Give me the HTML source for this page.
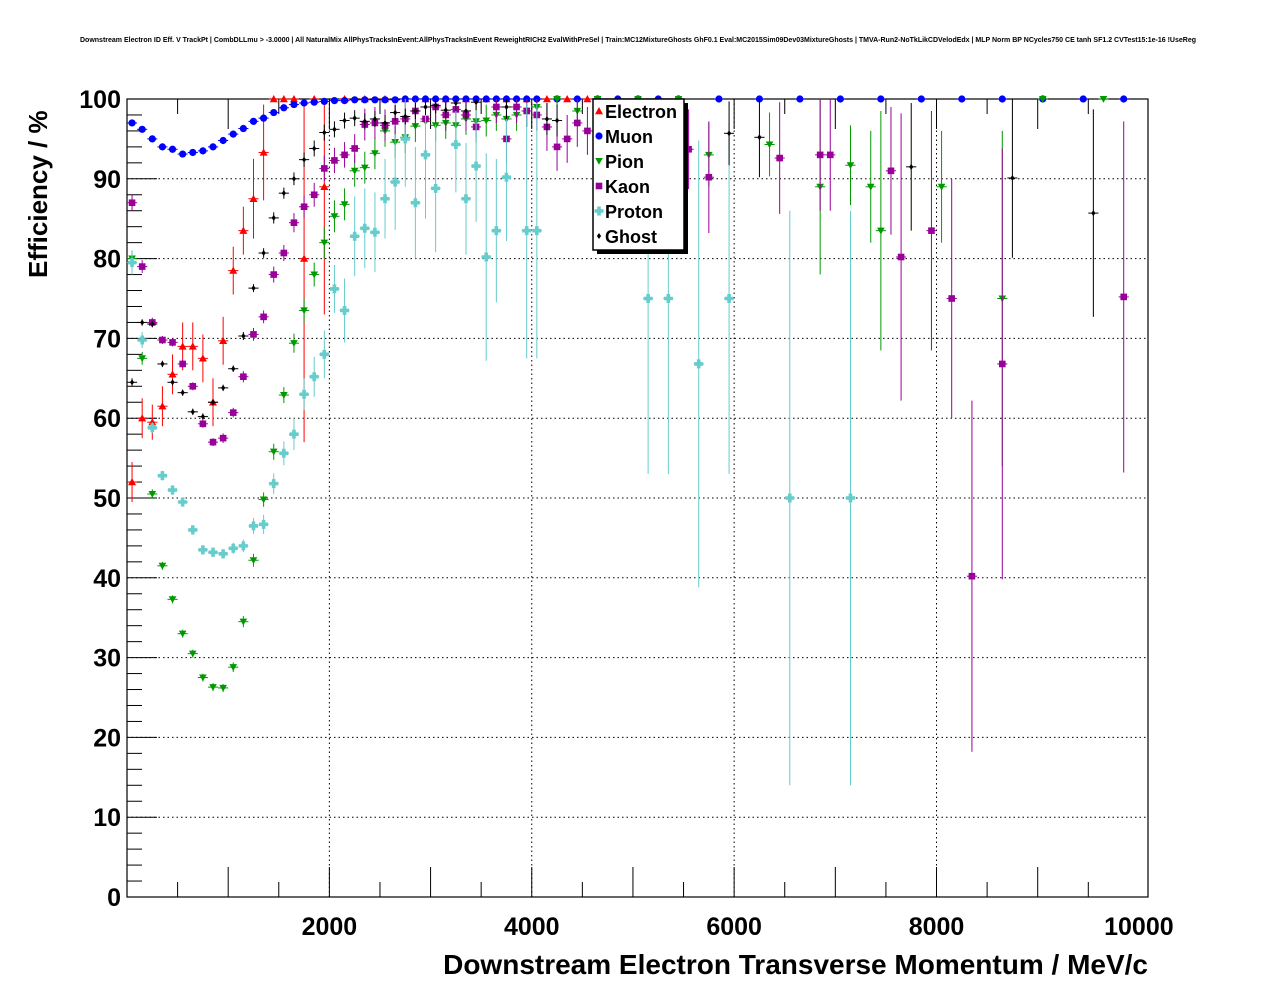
<!DOCTYPE html>
<html><head><meta charset="utf-8"><style>
html,body{margin:0;padding:0;background:#fff;}
svg{display:block;font-family:"Liberation Sans",sans-serif;}
</style></head><body>
<svg id="chart" width="1276" height="996" viewBox="0 0 1276 996" xmlns="http://www.w3.org/2000/svg">
<rect x="0" y="0" width="1276" height="996" fill="#fff"/>
<text x="638" y="42" font-size="7" font-weight="bold" text-anchor="middle">Downstream Electron ID Eff. V TrackPt | CombDLLmu &gt; -3.0000 | All NaturalMix AllPhysTracksInEvent:AllPhysTracksInEvent ReweightRICH2 EvalWithPreSel | Train:MC12MixtureGhosts GhF0.1 Eval:MC2015Sim09Dev03MixtureGhosts | TMVA-Run2-NoTkLikCDVelodEdx | MLP Norm BP NCycles750 CE tanh SF1.2 CVTest15:1e-16 !UseReg</text>
<g id="grid"></g>
<g id="axes"></g>
<g id="marks"></g>
<text transform="translate(47,278) rotate(-90)" font-size="26" font-weight="bold">Efficiency / %</text>
<text x="1148" y="974" font-size="28" font-weight="bold" text-anchor="end">Downstream Electron Transverse Momentum / MeV/c</text>
<g id="legend">
<rect x="597" y="103" width="91" height="151" fill="#000"/>
<rect x="593" y="99" width="91" height="151" fill="#fff" stroke="#000" stroke-width="1.5"/>
</g>
</svg>
<script>
const xE=[50,150,250,350,450,550,650,750,850,950,1050,1150,1250,1350,1450,1550,1650,1750,1850,1950,2150,2350,2550,2750,2950,3150,3350,3550,3750,3950,4150,4350,4550];
const yE=[52,60,59.5,61.5,65.5,69,69,67.5,62,69.7,78.5,83.5,87.5,93.3,100,100,100,80,100,89,100,100,100,100,100,100,100,100,100,100,100,100,100];
const eE=[2.5,2.5,2.2,2.5,2.5,3,3,3,3,3,3,3,5,6,0,0,0,23,0,16,0,0,0,0,0,0,0,0,0,0,0,0,0];
const xMu=[50,150,250,350,450,550,650,750,850,950,1050,1150,1250,1350,1450,1550,1650,1750,1850,1950,2050,2150,2250,2350,2450,2550,2650,2750,2850,2950,3050,3150,3250,3350,3450,3550,3650,3750,3850,3950,4050,4250,4450,4650,4850,5050,5250,5450,5850,6250,6650,7050,7450,7850,8250,8650,9050,9450,9850];
const yMu=[97,96.2,95,94,93.7,93.1,93.3,93.5,94,94.8,95.6,96.3,97.2,97.6,98.3,98.9,99.3,99.5,99.6,99.7,99.8,99.8,99.9,99.9,99.9,99.9,99.9,100,100,100,100,100,100,100,100,100,100,100,100,100,100,100,100,100,100,100,100,100,100,100,100,100,100,100,100,100,100,100,100];
const xPi=[50,150,250,350,450,550,650,750,850,950,1050,1150,1250,1350,1450,1550,1650,1750,1850,1950,2050,2150,2250,2350,2450,2550,2650,2750,2850,2950,3050,3150,3250,3350,3450,3550,3650,3750,3850,3950,4050,4250,4450,4650,5050,5450,5750,6350,6850,7150,7350,7450,8050,8650,9050,9650];
const yPi=[80,67.5,50.5,41.5,37.3,33,30.5,27.5,26.3,26.2,28.8,34.5,42.2,49.8,55.8,62.9,69.4,73.5,78,82,85.3,86.8,91,91.4,93.2,96,94.6,95.2,96.6,97.2,96.7,97,96.7,97.5,97.2,97.3,98,97.5,98,98.5,99,100,98.5,100,100,100,93,94.3,89,91.7,89,83.5,89,75,100,100];
const ePi=[1,0.8,0.6,0.5,0.5,0.5,0.5,0.5,0.5,0.5,0.6,0.7,0.8,0.9,1,1,1.2,1.5,1.5,2,2,2,2,2,2,2,2,2,2,2,2,2,2,2,2,2,2,2,2,2,1,1,2,1,0,0,4,4,11,5,7,15,7,21,0,0];
const xK=[50,150,250,350,450,550,650,750,850,950,1050,1150,1250,1350,1450,1550,1650,1750,1850,1950,2050,2150,2250,2350,2450,2550,2650,2750,2850,2950,3050,3150,3250,3350,3450,3650,3750,3850,3950,4050,4150,4250,4350,4450,4550,4650,5550,5750,6450,6850,6950,7550,7650,7950,8150,8350,8650,9850];
const yK=[87,79,72,69.8,69.5,66.8,64,59.3,57,57.5,60.7,65.2,70.5,72.7,78,80.7,84.5,86.5,88,91.3,92.3,93,93.8,96.8,97,96.7,97.2,97.5,98.5,97.5,99,98,98.7,98,96.5,99,95,99,98.5,98,96.5,94,95,97,96,99,93.7,90.2,92.6,93,93,91,80.2,83.5,75,40.2,66.8,75.2];
const eK=[1,0.8,0.6,0.5,0.5,0.5,0.5,0.5,0.5,0.6,0.6,0.7,0.8,0.8,1,1,1.2,1.4,1.5,1.6,1.6,1.6,1.8,2,2,2,2,2,2,2,2,2,2,2,2,2,3,2,2,2,3,3,3,3,3,3,5,7,7,7,7,8,18,15,15,22,27,22];
const xP=[50,150,250,350,450,550,650,750,850,950,1050,1150,1250,1350,1450,1550,1650,1750,1850,1950,2050,2150,2250,2350,2450,2550,2650,2750,2850,2950,3050,3250,3350,3450,3550,3650,3750,3950,4050,5150,5350,5650,5950,6550,7150];
const yP=[79.5,69.8,58.8,52.8,51,49.5,46,43.5,43.2,43,43.7,44,46.5,46.7,51.8,55.6,58,63,65.2,68,76.2,73.5,82.8,83.8,83.3,87.5,89.6,95,87,93,88.8,94.3,87.5,91.6,80.2,83.5,90.2,83.5,83.5,75,75,66.8,75,50,50];
const eP=[1.5,1,0.7,0.6,0.6,0.6,0.6,0.6,0.6,0.6,0.7,0.8,1,1.2,1.3,1.5,2,2,2.5,3,3,4,5,5,5,5,6,6,7,8,8,6,7,7,13,9,8,16,16,22,22,28,22,36,36];
const xG=[50,150,250,350,450,550,650,750,850,950,1050,1150,1250,1350,1450,1550,1650,1750,1850,1950,2050,2150,2250,2350,2450,2550,2650,2750,2850,2950,3050,3150,3250,3350,3450,3750,4150,4250,5450,5950,6250,7750,8750,9550];
const yG=[64.5,72,71.8,66.8,64.5,63.2,60.8,60.2,62,63.8,66.2,70.3,76.3,80.7,85.1,88.2,90,92.4,93.8,95.8,96.2,97.3,97.6,97.2,97.5,97,98.3,97.8,98.5,99,99.2,98.6,99.5,98.5,99.6,99,97.5,97.3,97.5,95.7,95.2,91.5,90.1,85.7];
const eG=[0.5,0.4,0.4,0.4,0.4,0.4,0.4,0.4,0.4,0.4,0.4,0.5,0.5,0.6,0.7,0.7,0.8,0.9,1,1,1,1,1,1,1,1,1,1,1,1,1,1,1,1,1,1.5,2,2,3,4,5,8,10,13];
const yTicks=[0,10,20,30,40,50,60,70,80,90,100];
const xTicks=[2000,4000,6000,8000,10000];

const NS='http://www.w3.org/2000/svg';
const X0=127,X1=1148,Y0=897,Y1=99,XMAX=10090;
const sx=v=>X0+(v/XMAX)*(X1-X0);
const sy=v=>Y0-(v/100)*(Y0-Y1);
function mk(parent,tag,attrs){const e=document.createElementNS(NS,tag);for(const k in attrs)e.setAttribute(k,attrs[k]);parent.appendChild(e);return e;}
const grid=document.getElementById('grid'),axes=document.getElementById('axes'),marks=document.getElementById('marks'),legend=document.getElementById('legend');

yTicks.forEach(t=>{
  if(t>0&&t<100){const l=mk(grid,'line',{x1:X0,x2:X1,y1:sy(t),y2:sy(t),stroke:'#000','stroke-width':1,'stroke-dasharray':'1.5,3'});
  
  }
  const tk=mk(axes,'line',{x1:X0,x2:X0+30,y1:sy(t),y2:sy(t),stroke:'#000','stroke-width':1});
  
  
  const tx=mk(axes,'text',{x:X0-6,y:sy(t)+9,'font-size':25,'font-weight':'bold','text-anchor':'end'});
  tx.textContent=t;
  
  
});
for(let v=2;v<100;v+=2){if(v%10===0)continue;mk(axes,'line',{x1:X0,x2:X0+15,y1:sy(v),y2:sy(v),stroke:'#000','stroke-width':1});}
for(let v=500;v<10000;v+=500){const maj=v%1000===0;mk(axes,'line',{x1:sx(v),x2:sx(v),y1:Y0,y2:Y0-(maj?30:15),stroke:'#000','stroke-width':1});mk(axes,'line',{x1:sx(v),x2:sx(v),y1:Y1,y2:Y1+(maj?30:15),stroke:'#000','stroke-width':1});}
xTicks.forEach(t=>{
  if(t<10000){const l=mk(grid,'line',{x1:sx(t),x2:sx(t),y1:Y1,y2:Y0,stroke:'#000','stroke-width':1,'stroke-dasharray':'1.5,3'});
  
  }
  const tx=mk(axes,'text',{x:Math.min(sx(t),1145),y:Y0+38,'font-size':25,'font-weight':'bold','text-anchor':'middle'});
  tx.textContent=t;
  
  
});
mk(axes,'rect',{x:X0,y:Y1,width:X1-X0,height:Y0-Y1,fill:'none',stroke:'#000','stroke-width':1.2});

function marker(g,shape,cx,cy,col,sz){
  if(shape==='tri')return mk(g,'polygon',{points:`${cx},${cy-sz} ${cx-sz},${cy+sz*0.8} ${cx+sz},${cy+sz*0.8}`,fill:col});
  if(shape==='itri')return mk(g,'polygon',{points:`${cx},${cy+sz} ${cx-sz},${cy-sz*0.8} ${cx+sz},${cy-sz*0.8}`,fill:col});
  if(shape==='circ')return mk(g,'circle',{cx:cx,cy:cy,r:sz,fill:col});
  if(shape==='sq')return mk(g,'rect',{x:cx-sz,y:cy-sz,width:2*sz,height:2*sz,fill:col});
  if(shape==='cross')return mk(g,'path',{d:`M${cx-sz} ${cy-sz/2.5}h${sz*0.6}v${-sz*0.6}h${sz*0.8}v${sz*0.6}h${sz*0.6}v${sz*0.8}h${-sz*0.6}v${sz*0.6}h${-sz*0.8}v${-sz*0.6}h${-sz*0.6}z`,fill:col});
  if(shape==='dia')return mk(g,'polygon',{points:`${cx},${cy-sz} ${cx+sz*0.7},${cy} ${cx},${cy+sz} ${cx-sz*0.7},${cy}`,fill:col});
}
const series=[
 {name:'Electron',xs:xE,ys:yE,es:eE,col:'#ff0000',shape:'tri',sz:4},
 {name:'Muon',xs:xMu,ys:yMu,es:null,col:'#0000ff',shape:'circ',sz:3.6},
 {name:'Pion',xs:xPi,ys:yPi,es:ePi,col:'#009900',shape:'itri',sz:3.8},
 {name:'Kaon',xs:xK,ys:yK,es:eK,col:'#990099',shape:'sq',sz:3.3},
 {name:'Proton',xs:xP,ys:yP,es:eP,col:'#66cccc',shape:'cross',sz:4.5},
 {name:'Ghost',xs:xG,ys:yG,es:eG,col:'#000000',shape:'dia',sz:3}
];
series.forEach((s,si)=>{
  const g=mk(marks,'g',{});
  
  
  s.xs.forEach((xv,i)=>{
    const cx=sx(xv),cy=sy(s.ys[i]);
    const e=s.es?s.es[i]:0.3;
    mk(g,'line',{x1:sx(xv-50),x2:sx(xv+50),y1:cy,y2:cy,stroke:s.col,'stroke-width':1});
    if(e>0)mk(g,'line',{x1:cx,x2:cx,y1:sy(Math.min(100,s.ys[i]+e)),y2:sy(Math.max(0,s.ys[i]-e)),stroke:s.col,'stroke-width':1});
    const m=marker(g,s.shape,cx,cy,s.col,s.sz);
    
    
  });
  const ly=111+si*25;
  const ent=mk(legend,'g',{});
  
  
  marker(ent,s.shape,599,ly,s.col,s.sz);
  const t=mk(ent,'text',{x:605,y:ly+7,'font-size':18,'font-weight':'bold'});
  t.textContent=s.name;
});
</script>
</body></html>
